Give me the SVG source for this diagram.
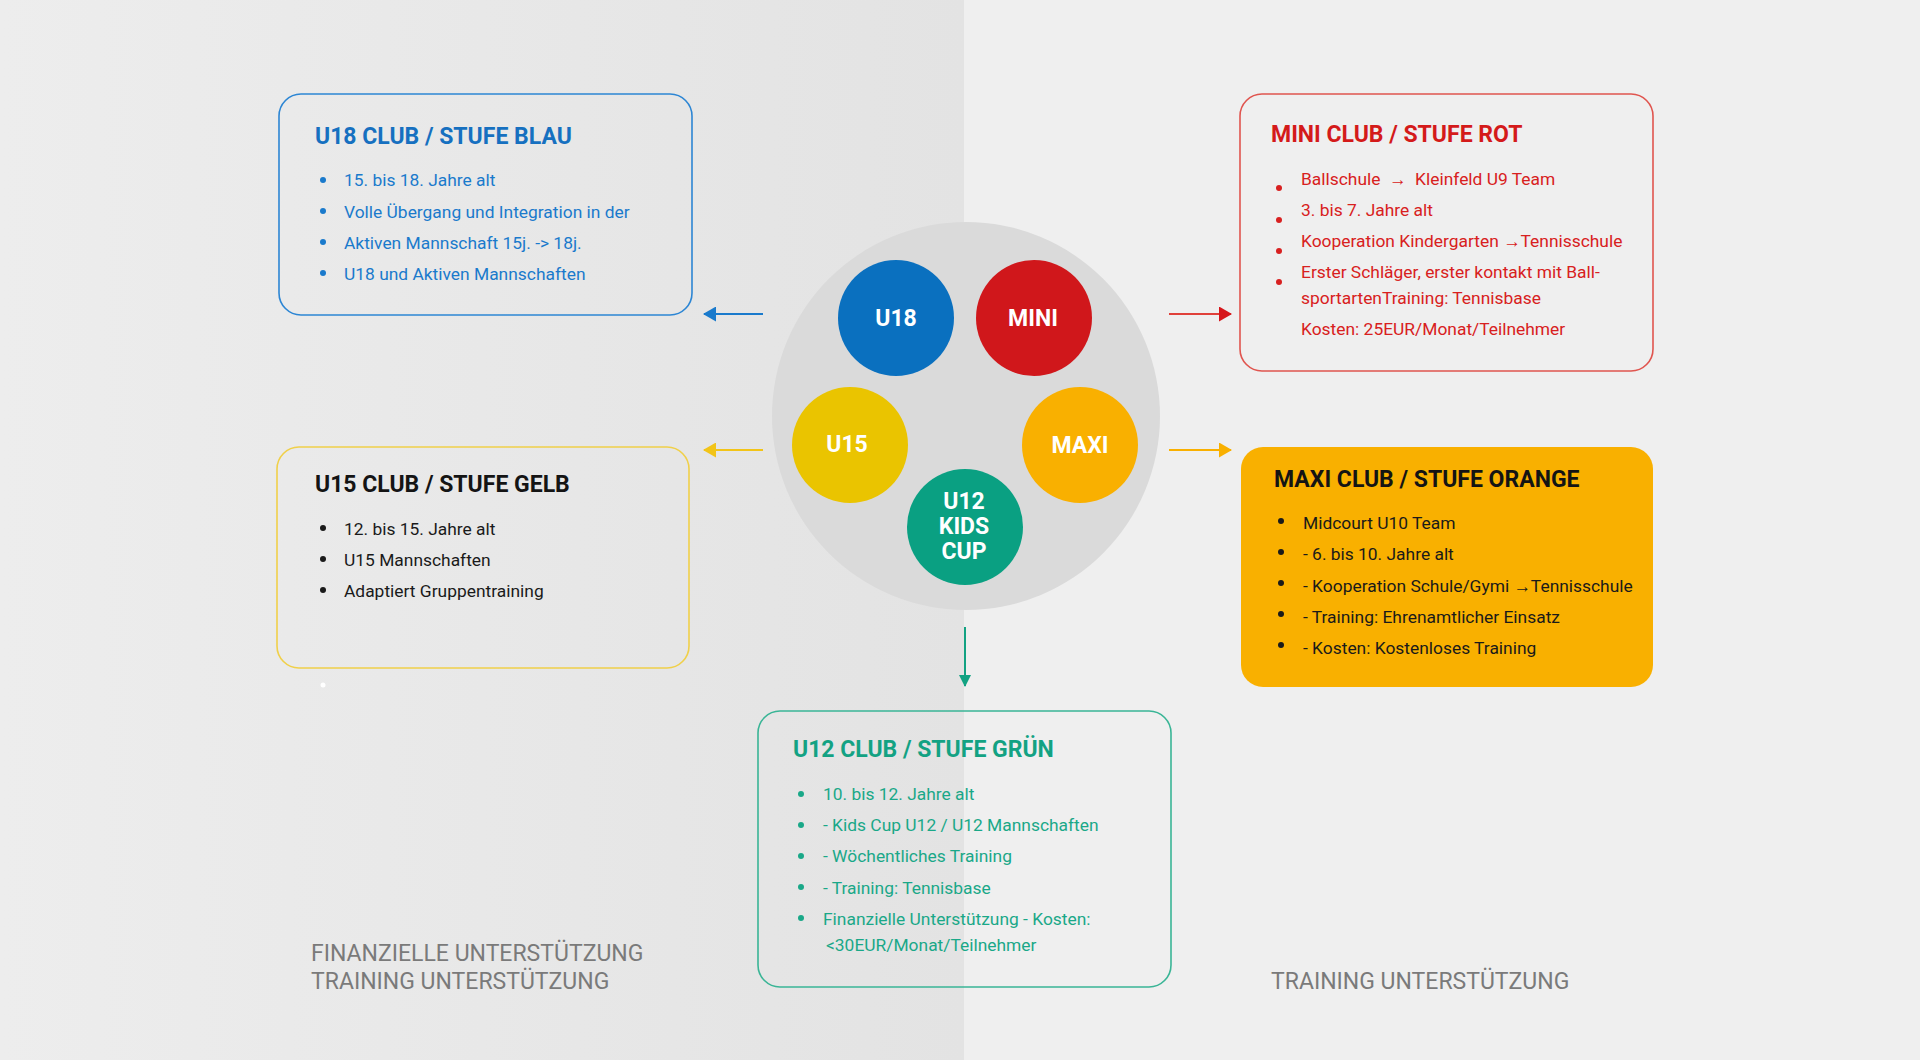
<svg xmlns="http://www.w3.org/2000/svg" width="1920" height="1060" viewBox="0 0 1920 1060">
<style>
.title{font-family:Roboto,"Liberation Sans",sans-serif;font-weight:bold;font-size:23px}
.item{font-family:Roboto,"Liberation Sans",sans-serif;font-size:17.4px}
.lbl{font-family:Roboto,"Liberation Sans",sans-serif;font-weight:bold;font-size:23px;fill:#fff;text-anchor:middle}
.foot{font-family:Roboto,"Liberation Sans",sans-serif;font-size:23px;fill:#7a7a7a}
.box{stroke-width:1.6}
</style>
<defs>
<linearGradient id="lg" x1="0" x2="1" y1="0" y2="0">
<stop offset="0" stop-color="#ededed"/>
<stop offset="1" stop-color="#e3e3e3"/>
</linearGradient>
<marker id="ab" viewBox="0 0 13 15" refX="12" refY="7.5" markerWidth="13" markerHeight="15" markerUnits="userSpaceOnUse" orient="auto"><path d="M0,0 L13,7.5 L0,15 Z" fill="#1a7acc"/></marker>
<marker id="ay" viewBox="0 0 13 15" refX="12" refY="7.5" markerWidth="13" markerHeight="15" markerUnits="userSpaceOnUse" orient="auto"><path d="M0,0 L13,7.5 L0,15 Z" fill="#f2c418"/></marker>
<marker id="ar" viewBox="0 0 13 15" refX="12" refY="7.5" markerWidth="13" markerHeight="15" markerUnits="userSpaceOnUse" orient="auto"><path d="M0,0 L13,7.5 L0,15 Z" fill="#d6161b"/></marker>
<marker id="ao" viewBox="0 0 13 15" refX="12" refY="7.5" markerWidth="13" markerHeight="15" markerUnits="userSpaceOnUse" orient="auto"><path d="M0,0 L13,7.5 L0,15 Z" fill="#f9b000"/></marker>
<marker id="ag" viewBox="0 0 12 12" refX="11" refY="6" markerWidth="12" markerHeight="12" markerUnits="userSpaceOnUse" orient="auto"><path d="M0,0 L12,6 L0,12 Z" fill="#12a282"/></marker>
</defs>
<rect x="0" y="0" width="1920" height="1060" fill="#efefef"/>
<rect x="0" y="0" width="964" height="1060" fill="url(#lg)"/>

<g id="hub">
<circle cx="966" cy="416" r="194" fill="#dadada"/>
<g id="c-u18"><circle cx="896" cy="318" r="58" fill="#0a70bf"/><text class="lbl" x="896" y="326">U18</text></g>
<g id="c-mini"><circle cx="1034" cy="318" r="58" fill="#d0171b"/><text class="lbl" x="1033" y="326">MINI</text></g>
<g id="c-u15"><circle cx="850" cy="445" r="58" fill="#eac400"/><text class="lbl" x="847" y="452">U15</text></g>
<g id="c-maxi"><circle cx="1080" cy="445" r="58" fill="#f9b000"/><text class="lbl" x="1080" y="453">MAXI</text></g>
<g id="c-u12"><circle cx="965" cy="527" r="58" fill="#0aa082"/><text class="lbl" x="964" y="509">U12</text><text class="lbl" x="964" y="534">KIDS</text><text class="lbl" x="964" y="559">CUP</text></g>
</g>

<g id="connectors" fill="none" stroke-width="2">
<line x1="763" y1="314" x2="704" y2="314" stroke="#1a7acc" marker-end="url(#ab)"/>
<line x1="763" y1="450" x2="704" y2="450" stroke="#f2c418" marker-end="url(#ay)"/>
<line x1="1169" y1="314" x2="1231" y2="314" stroke="#e0403a" marker-end="url(#ar)"/>
<line x1="1169" y1="450" x2="1231" y2="450" stroke="#f9b000" marker-end="url(#ao)"/>
<line x1="965" y1="627" x2="965" y2="686" stroke="#12a282" marker-end="url(#ag)"/>
</g>

<g id="u18">
<rect class="box" x="279" y="94" width="413" height="221" rx="22" fill="none" stroke="#2d86d4"/>
<text class="title" x="315" y="144" fill="#1670c0">U18 CLUB / STUFE BLAU</text>
<g fill="#1a7acc">
<circle cx="323" cy="180" r="3"/><circle cx="323" cy="211" r="3"/><circle cx="323" cy="242" r="3"/><circle cx="323" cy="273" r="3"/>
<text class="item" x="344" y="186">15. bis 18. Jahre alt</text>
<text class="item" x="344" y="218">Volle Übergang und Integration in der</text>
<text class="item" x="344" y="249">Aktiven Mannschaft 15j. -&gt; 18j.</text>
<text class="item" x="344" y="280">U18 und Aktiven Mannschaften</text>
</g>
</g>

<g id="mini">
<rect class="box" x="1240" y="94" width="413" height="277" rx="22" fill="none" stroke="#e0554f"/>
<text class="title" x="1271" y="142" fill="#d41a1a">MINI CLUB / STUFE ROT</text>
<g fill="#d82020">
<circle cx="1279" cy="188" r="3"/><circle cx="1279" cy="220" r="3"/><circle cx="1279" cy="251" r="3"/><circle cx="1279" cy="282" r="3"/>
<text class="item" x="1301" y="185" xml:space="preserve">Ballschule  →  Kleinfeld U9 Team</text>
<text class="item" x="1301" y="216">3. bis 7. Jahre alt</text>
<text class="item" x="1301" y="247">Kooperation Kindergarten →Tennisschule</text>
<text class="item" x="1301" y="278">Erster Schläger, erster kontakt mit Ball-</text>
<text class="item" x="1301" y="304">sportartenTraining: Tennisbase</text>
<text class="item" x="1301" y="335">Kosten: 25EUR/Monat/Teilnehmer</text>
</g>
</g>

<g id="u15">
<rect class="box" x="277" y="447" width="412" height="221" rx="22" fill="none" stroke="#f0d04a"/>
<text class="title" x="315" y="492" fill="#141414">U15 CLUB / STUFE GELB</text>
<g fill="#1a1a1a">
<circle cx="323" cy="528" r="3"/><circle cx="323" cy="559" r="3"/><circle cx="323" cy="590" r="3"/>
<text class="item" x="344" y="535">12. bis 15. Jahre alt</text>
<text class="item" x="344" y="566">U15 Mannschaften</text>
<text class="item" x="344" y="597">Adaptiert Gruppentraining</text>
</g>
<circle cx="323" cy="685" r="2.5" fill="#ffffff"/>
</g>

<g id="maxi">
<rect x="1241" y="447" width="412" height="240" rx="22" fill="#f9b000"/>
<text class="title" x="1274" y="487" fill="#141414">MAXI CLUB / STUFE ORANGE</text>
<g fill="#1a1a1a">
<circle cx="1281" cy="521" r="3"/><circle cx="1281" cy="552" r="3"/><circle cx="1281" cy="583" r="3"/><circle cx="1281" cy="614" r="3"/><circle cx="1281" cy="645" r="3"/>
<text class="item" x="1303" y="529">Midcourt U10 Team</text>
<text class="item" x="1303" y="560">- 6. bis 10. Jahre alt</text>
<text class="item" x="1303" y="592">- Kooperation Schule/Gymi →Tennisschule</text>
<text class="item" x="1303" y="623">- Training: Ehrenamtlicher Einsatz</text>
<text class="item" x="1303" y="654">- Kosten: Kostenloses Training</text>
</g>
</g>

<g id="u12">
<rect class="box" x="758" y="711" width="413" height="276" rx="22" fill="none" stroke="#3ab596"/>
<text class="title" x="793" y="757" fill="#13a283">U12 CLUB / STUFE GRÜN</text>
<g fill="#1aa888">
<circle cx="801" cy="794" r="3"/><circle cx="801" cy="825" r="3"/><circle cx="801" cy="856" r="3"/><circle cx="801" cy="887" r="3"/><circle cx="801" cy="918" r="3"/>
<text class="item" x="823" y="800">10. bis 12. Jahre alt</text>
<text class="item" x="823" y="831">- Kids Cup U12 / U12 Mannschaften</text>
<text class="item" x="823" y="862">- Wöchentliches Training</text>
<text class="item" x="823" y="894">- Training: Tennisbase</text>
<text class="item" x="823" y="925">Finanzielle Unterstützung - Kosten:</text>
<text class="item" x="826" y="951">&lt;30EUR/Monat/Teilnehmer</text>
</g>
</g>

<g id="footers">
<text class="foot" x="311" y="961">FINANZIELLE UNTERSTÜTZUNG</text>
<text class="foot" x="311" y="989">TRAINING UNTERSTÜTZUNG</text>
<text class="foot" x="1271" y="989">TRAINING UNTERSTÜTZUNG</text>
</g>
</svg>
